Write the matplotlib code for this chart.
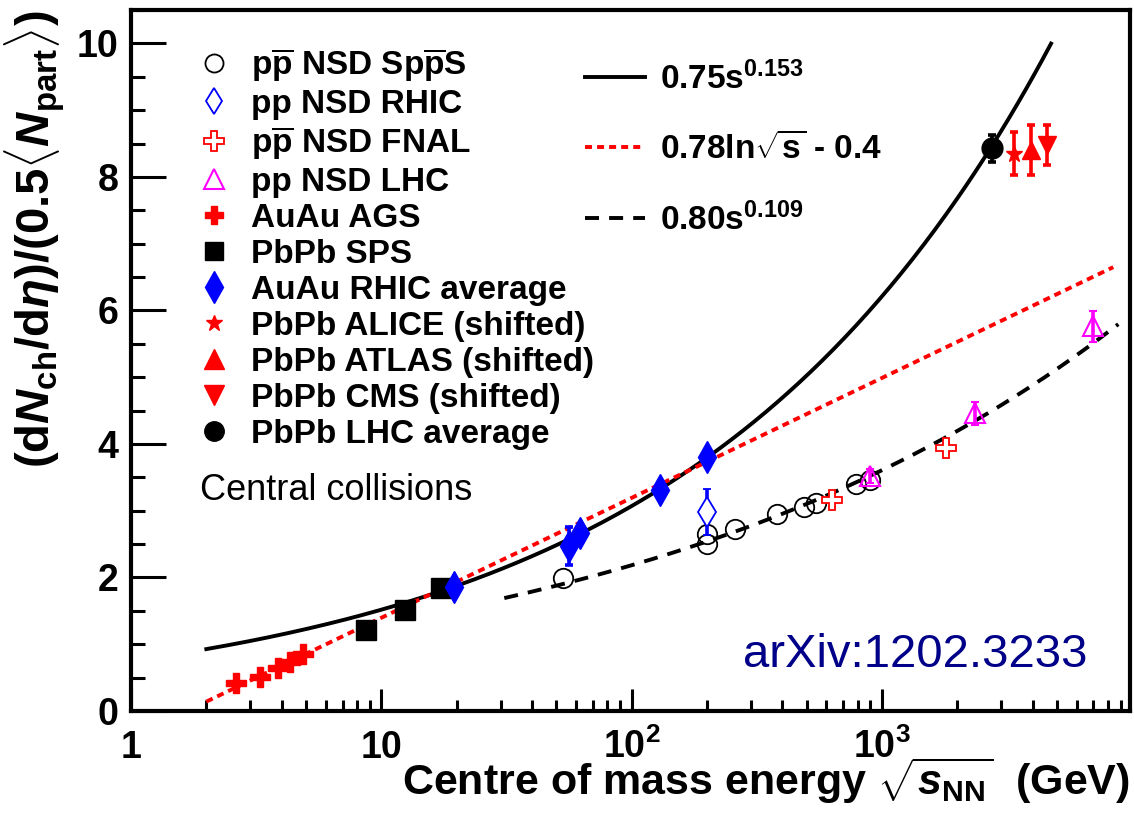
import numpy as np
import matplotlib
matplotlib.use("Agg")
import matplotlib.pyplot as plt
from matplotlib.lines import Line2D
from matplotlib.ticker import FixedLocator, FixedFormatter, LogLocator, NullFormatter, MultipleLocator

plt.rcParams["font.family"] = ["Liberation Sans", "DejaVu Sans"]
plt.rcParams["font.weight"] = "bold"
plt.rcParams["axes.labelweight"] = "bold"
plt.rcParams["mathtext.fontset"] = "custom"
plt.rcParams["mathtext.rm"] = "Liberation Sans:bold"
plt.rcParams["mathtext.bf"] = "Liberation Sans:bold"
plt.rcParams["mathtext.it"] = "Liberation Sans:bold:italic"
plt.rcParams["mathtext.sf"] = "Liberation Sans:bold"

# pp and ppbar NSD measurements
sps_pp_x = [53, 200, 200, 260, 380, 490, 546, 790, 900]
sps_pp_y = [1.99, 2.50, 2.65, 2.72, 2.95, 3.05, 3.11, 3.40, 3.46]
rhic_pp_x = [200]
rhic_pp_y = [2.98]
rhic_pp_err = [0.35]
fnal_x = [630, 1800]
fnal_y = [3.16, 3.94]
fnal_err = [0.10, 0.08]
lhc_pp_x = [900, 2360, 7000]
lhc_pp_y = [3.52, 4.46, 5.76]
lhc_pp_err = [0.10, 0.17, 0.23]

# central heavy-ion collisions
ags_x = [2.63, 3.28, 3.87, 4.33, 4.88]
ags_y = [0.42, 0.51, 0.64, 0.73, 0.85]
spsaa_x = [8.7, 12.4, 17.3]
spsaa_y = [1.21, 1.51, 1.84]
rhic_aa_x = [19.6, 56, 62.4, 130, 200]
rhic_aa_y = [1.86, 2.47, 2.66, 3.31, 3.81]
rhic_aa_err = [0.05, 0.28, 0.10, 0.08, 0.08]
alice_x, alice_y, alice_err = [3370], [8.35], [0.32]
atlas_x, atlas_y, atlas_err = [3950], [8.40], [0.37]
cms_x, cms_y, cms_err = [4570], [8.48], [0.30]
lhc_avg_x, lhc_avg_y, lhc_avg_err = [2760], [8.43], [0.20]

# fit curves: ranges of sqrt(s_NN)
fit_pow_aa = (0.75, 0.153, 2.0, 4740.0)
fit_log_aa = (0.78, -0.4, 2.0, 8400.0)
fit_pow_pp = (0.80, 0.109, 31.0, 8800.0)

fig = plt.figure(figsize=(11.34, 8.13), dpi=100)
ax = fig.add_axes([131 / 1134, 1 - 711 / 813, 999 / 1134, 701 / 813])

lw = 2.8
a, p, lo, hi = fit_pow_aa
e = np.logspace(np.log10(lo), np.log10(hi), 300)
ax.plot(e, a * (e ** 2) ** p, color="black", lw=lw, zorder=2)
a, b, lo, hi = fit_log_aa
e = np.logspace(np.log10(lo), np.log10(hi), 300)
ax.plot(e, a * np.log(e) + b, color="red", lw=lw, dashes=(1.8, 1.3), zorder=2)
a, p, lo, hi = fit_pow_pp
e = np.logspace(np.log10(lo), np.log10(hi), 300)
ax.plot(e, a * (e ** 2) ** p, color="black", lw=lw, dashes=(3.6, 2.6), zorder=2)

ebar = dict(elinewidth=2.6, capsize=3, capthick=2.6, ls="none", zorder=4)

ax.plot(sps_pp_x, sps_pp_y, "o", ms=14, mfc="none", mec="black", mew=1.3, zorder=3)
ax.errorbar(rhic_pp_x, rhic_pp_y, yerr=rhic_pp_err, fmt="d", ms=15, mfc="white",
            mec="blue", mew=1.3, ecolor="blue", **ebar)
ax.errorbar(fnal_x, fnal_y, yerr=fnal_err, fmt="P", ms=15, mfc="white",
            mec="red", mew=1.3, ecolor="red", **ebar)
ax.errorbar(lhc_pp_x, lhc_pp_y, yerr=lhc_pp_err, fmt="^", ms=15, mfc="none",
            mec="magenta", mew=1.5, ecolor="magenta", **ebar)

ax.plot(ags_x, ags_y, "P", ms=14, color="red", mec="red", zorder=4)
ax.plot(spsaa_x, spsaa_y, "s", ms=15, color="black", zorder=4)
ax.errorbar(rhic_aa_x, rhic_aa_y, yerr=rhic_aa_err, fmt="d", ms=16, color="blue",
            ecolor="blue", **ebar)
ax.errorbar(alice_x, alice_y, yerr=alice_err, fmt="*", ms=12, color="red", ecolor="red", **ebar)
ax.errorbar(atlas_x, atlas_y, yerr=atlas_err, fmt="^", ms=13, color="red", ecolor="red", **ebar)
ax.errorbar(cms_x, cms_y, yerr=cms_err, fmt="v", ms=13, color="red", ecolor="red", **ebar)
ax.errorbar(lhc_avg_x, lhc_avg_y, yerr=lhc_avg_err, fmt="o", ms=15, color="black",
            ecolor="black", **ebar)

ax.set_xscale("log")
ax.set_xlim(1, 9800)
ax.set_ylim(0, 10.5)

ax.xaxis.set_major_locator(FixedLocator([1, 10, 100, 1000]))
ax.xaxis.set_major_formatter(FixedFormatter(["1", "10", r"$10^{2}$", r"$10^{3}$"]))
ax.xaxis.set_minor_locator(LogLocator(base=10, subs=np.arange(2, 10)))
ax.xaxis.set_minor_formatter(NullFormatter())
ax.yaxis.set_major_locator(MultipleLocator(2))
ax.yaxis.set_minor_locator(MultipleLocator(0.5))

ax.tick_params(axis="both", which="both", direction="in", width=2.2,
               top=False, right=False)
ax.tick_params(axis="x", which="major", length=16, labelsize=27, pad=34)
ax.tick_params(axis="x", which="minor", length=8)
ax.tick_params(axis="y", which="major", length=25, labelsize=27, pad=9)
ax.tick_params(axis="y", which="minor", length=10)
for lab in ax.get_xticklabels():
    lab.set_verticalalignment("baseline")
for s in ax.spines.values():
    s.set_linewidth(3)

ax.set_xlabel(r"Centre of mass energy $\sqrt{s_{\mathrm{NN}}}$  (GeV)",
              fontsize=31, loc="right", labelpad=-8)
ax.set_ylabel(r"$(\mathrm{d}N_{\mathrm{ch}}/\mathrm{d}\eta)/(0.5\langle N_{\mathrm{part}}\rangle)$",
              fontsize=34, loc="top")
ax.yaxis.set_label_coords(-0.064, 1.0)

data_handles = [
    Line2D([], [], ls="none", marker="o", ms=13, mfc="none", mec="black", mew=1.3),
    Line2D([], [], ls="none", marker="d", ms=13, mfc="white", mec="blue", mew=1.3),
    Line2D([], [], ls="none", marker="P", ms=14, mfc="white", mec="red", mew=1.3),
    Line2D([], [], ls="none", marker="^", ms=14, mfc="none", mec="magenta", mew=1.5),
    Line2D([], [], ls="none", marker="P", ms=13, color="red"),
    Line2D([], [], ls="none", marker="s", ms=13, color="black"),
    Line2D([], [], ls="none", marker="d", ms=16, color="blue"),
    Line2D([], [], ls="none", marker="*", ms=12, color="red"),
    Line2D([], [], ls="none", marker="^", ms=14, color="red"),
    Line2D([], [], ls="none", marker="v", ms=14, color="red"),
    Line2D([], [], ls="none", marker="o", ms=14, color="black"),
]
data_labels = [
    r"p$\overline{\mathrm{p}}$ NSD Sp$\overline{\mathrm{p}}$S",
    "pp NSD RHIC",
    r"p$\overline{\mathrm{p}}$ NSD FNAL",
    "pp NSD LHC",
    "AuAu AGS",
    "PbPb SPS",
    "AuAu RHIC average",
    "PbPb ALICE (shifted)",
    "PbPb ATLAS (shifted)",
    "PbPb CMS (shifted)",
    "PbPb LHC average",
]
leg1 = ax.legend(data_handles, data_labels, loc="upper left",
                 bbox_to_anchor=(0.068, 0.948), frameon=False, fontsize=24,
                 borderpad=0, borderaxespad=0, handlelength=0.9,
                 handletextpad=0.65, labelspacing=0.15)
ax.add_artist(leg1)

fit_handles = [
    Line2D([], [], color="black", lw=lw),
    Line2D([], [], color="red", lw=lw, dashes=(1.8, 1.3)),
    Line2D([], [], color="black", lw=lw, dashes=(3.6, 2.6)),
]
fit_labels = [
    r"$\mathrm{0.75s^{0.153}}$",
    r"0.78ln$\sqrt{\mathrm{s}}$ - 0.4",
    r"$\mathrm{0.80s^{0.109}}$",
]
ax.legend(fit_handles, fit_labels, loc="upper left", bbox_to_anchor=(0.454, 0.927),
          frameon=False, fontsize=24, borderpad=0, borderaxespad=0,
          handlelength=1.8, handletextpad=0.45, labelspacing=1.1)

ax.text(0.069, 0.315, "Central collisions", transform=ax.transAxes,
        fontsize=26, fontweight="normal", va="center", ha="left")
ax.text(0.613, 0.08, "arXiv:1202.3233", transform=ax.transAxes,
        fontsize=34, fontweight="normal", color="#000088", va="center", ha="left")

fig.savefig("out.png", dpi=100)
